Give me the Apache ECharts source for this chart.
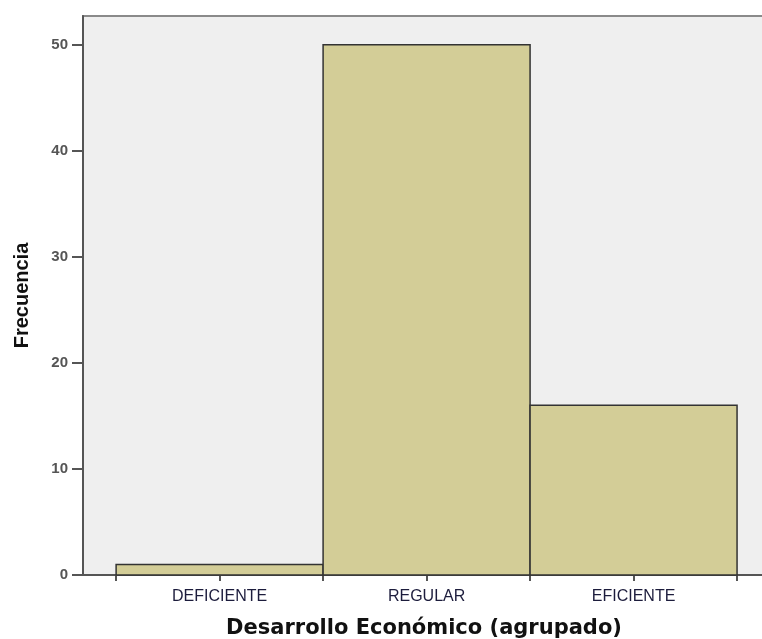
<!DOCTYPE html>
<html><head><meta charset="utf-8">
<script src="https://cdn.jsdelivr.net/npm/echarts@6/dist/echarts.min.js"></script>
<style>html,body{margin:0;padding:0;background:#fff}#c{width:762px;height:639px}</style>
</head><body><div id="c"></div>
<script>
const categories = ['DEFICIENTE', 'REGULAR', 'EFICIENTE'];
const frequencies = [1, 50, 16];
const yTicks = [0, 10, 20, 30, 40, 50];
const xTitle = 'Desarrollo Económico (agrupado)';
const yTitle = 'Frecuencia';

const chart = echarts.init(document.getElementById('c'));
const barData = categories.map((c, i) => [i, i + 1, frequencies[i]]);
const xTickVals = [];
for (let i = 0; i <= categories.length; i++) { xTickVals.push(i); if (i < categories.length) xTickVals.push(i + 0.5); }
const xLabelVals = categories.map((c, i) => i + 0.5);

chart.setOption({
  animation: false,
  grid: { left: 83, top: 16, right: -3, bottom: 64, outerBoundsMode: 'none', containLabel: false, show: true, backgroundColor: '#efefef', borderColor: '#8a8a8a', borderWidth: 2 },
  xAxis: {
    type: 'value', min: -0.16, max: 3.135,
    splitLine: { show: false },
    axisLine: { show: true, onZero: false, lineStyle: { color: '#555', width: 2 } },
    axisTick: { show: true, customValues: xTickVals, length: 6, lineStyle: { color: '#555', width: 2 } },
    axisLabel: { customValues: xLabelVals, formatter: v => categories[Math.round(v - 0.5)] || '', color: '#1c1c3c', fontSize: 16, fontFamily: 'Liberation Sans, Arial', margin: 14 },
    name: xTitle, nameLocation: 'middle', nameGap: 43,
    nameTextStyle: { fontSize: 21, fontWeight: 'bold', color: '#111', fontFamily: 'DejaVu Sans, Verdana' }
  },
  yAxis: {
    type: 'value', min: 0, max: 52.7,
    splitLine: { show: false },
    axisLine: { show: true, onZero: false, lineStyle: { color: '#555', width: 2 } },
    axisTick: { show: true, customValues: yTicks, length: 11, lineStyle: { color: '#555', width: 2 } },
    axisLabel: { customValues: yTicks, color: '#555', fontSize: 15, fontWeight: 'bold', fontFamily: 'Liberation Sans, Arial', margin: 15 },
    name: yTitle, nameLocation: 'middle', nameGap: 51, nameRotate: 90,
    nameTextStyle: { fontSize: 20, fontWeight: 'bold', color: '#111', fontFamily: 'Liberation Sans, Arial' }
  },
  series: [{
    type: 'custom',
    data: barData,
    renderItem: function (params, api) {
      const p0 = api.coord([api.value(0), 0]);
      const p1 = api.coord([api.value(1), api.value(2)]);
      return {
        type: 'rect',
        shape: { x: p0[0], y: p1[1], width: p1[0] - p0[0], height: p0[1] - p1[1] },
        style: { fill: '#d3cd97', stroke: '#333', lineWidth: 1.5 }
      };
    },
    encode: { x: [0, 1], y: 2 }
  }]
});
</script></body></html>
